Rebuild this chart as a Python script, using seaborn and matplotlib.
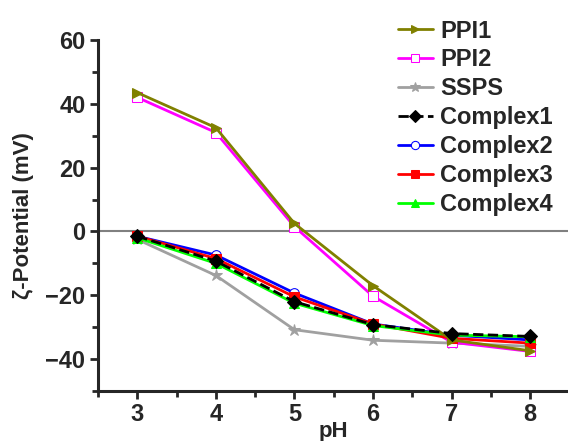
import numpy as np
import pandas as pd
import seaborn as sns
import matplotlib.pyplot as plt
from matplotlib.ticker import MultipleLocator

ph = [3, 4, 5, 6, 7, 8]
ppi1 = [43.5, 32.5, 2.5, -17.0, -34.0, -37.4]
ppi2 = [42.0, 31.0, 1.5, -20.3, -34.7, -37.6]
ssps = [-2.5, -13.8, -30.8, -34.1, -35.0, -36.0]
complex1 = [-1.5, -9.3, -22.0, -29.2, -32.0, -32.9]
complex2 = [-1.5, -7.4, -19.3, -29.0, -32.5, -34.0]
complex3 = [-1.5, -8.5, -20.5, -29.0, -33.5, -35.0]
complex4 = [-2.0, -10.0, -22.5, -29.5, -32.5, -33.0]

sns.set_style("ticks")
plt.rcParams['font.family'] = ['Liberation Sans', 'DejaVu Sans']
plt.rcParams['font.weight'] = 'bold'

fig = plt.figure(figsize=(5.68, 4.41), dpi=100)
ax = fig.add_axes([0.1725, 0.1134, 0.83, 0.796])

ax.axhline(0, color='#808080', lw=1.5, zorder=1)

series = [
    ("PPI1", ppi1, dict(color='#808000', marker='>', mfc='#808000', mec='#808000', zorder=5)),
    ("PPI2", ppi2, dict(color='#ff00ff', marker='s', mfc='white', mec='#ff00ff', zorder=4)),
    ("SSPS", ssps, dict(color='#a0a0a0', marker='*', mfc='#a0a0a0', mec='#a0a0a0', markersize=9, zorder=3)),
    ("Complex1", complex1, dict(color='black', marker='D', mfc='black', mec='black', linestyle='--', zorder=6)),
    ("Complex2", complex2, dict(color='blue', marker='o', mfc='white', mec='blue', zorder=4)),
    ("Complex3", complex3, dict(color='red', marker='s', mfc='red', mec='red', zorder=4)),
    ("Complex4", complex4, dict(color='#00ff00', marker='^', mfc='#00ff00', mec='#00ff00', zorder=4)),
]

for name, vals, kw in series:
    kw.setdefault('markersize', 7)
    sns.lineplot(x=ph, y=vals, ax=ax, label=name, lw=2, **kw)

ax.set_xlim(2.5, 8.5)
ax.set_ylim(-50, 60)
ax.xaxis.set_major_locator(MultipleLocator(1))
ax.xaxis.set_minor_locator(MultipleLocator(0.5))
ax.yaxis.set_major_locator(MultipleLocator(20))
ax.yaxis.set_minor_locator(MultipleLocator(10))
ax.tick_params(which='major', direction='out', length=6, width=2, labelsize=17, pad=3)
ax.tick_params(which='minor', direction='out', length=4, width=2)

ax.spines['top'].set_visible(False)
ax.spines['right'].set_visible(False)
ax.spines['left'].set_linewidth(2.2)
ax.spines['bottom'].set_linewidth(2.2)

ax.set_xlabel("pH", fontsize=16, fontweight='bold')
ax.set_ylabel("ζ-Potential (mV)", fontsize=16, fontweight='bold')
ax.xaxis.set_label_coords(0.5, -0.085)
ax.yaxis.set_label_coords(-0.135, 0.5)

leg = ax.legend(loc='upper right', bbox_to_anchor=(0.985, 1.085), frameon=False,
                prop={'weight': 'bold', 'size': 17}, handlelength=1.5,
                handletextpad=0.3, labelspacing=0.25, borderaxespad=0,
                markerscale=0.85)

fig.savefig("out.png", dpi=100)
